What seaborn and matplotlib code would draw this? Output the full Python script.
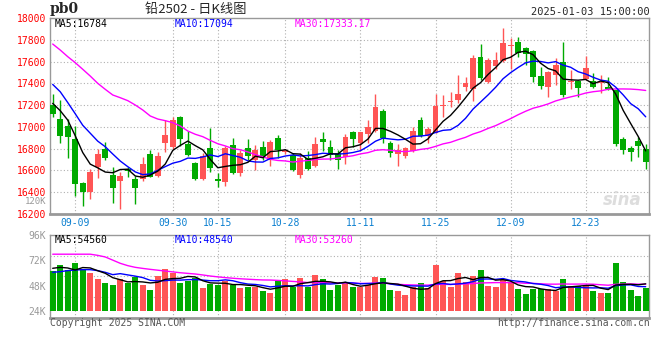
import numpy as np
import pandas as pd
import seaborn as sns
import matplotlib
matplotlib.use('Agg')
import matplotlib.pyplot as plt

# daily candles, 2024-09-04 .. 2025-01-03
opens = [17201, 17072, 17008, 16889, 16482, 16405, 16635, 16797, 16558, 16506,
         16613, 16522, 16518, 16748, 16552, 16849, 16818, 17094, 16843, 16665,
         16522, 16803, 16518, 16497, 16834, 16580, 16810, 16693, 16815, 16693,
         16900, 16766, 16745, 16558, 16710, 16644, 16889, 16815, 16757, 16720,
         16953, 16849, 16935, 16965, 17149, 16849, 16750, 16735, 16782, 17066,
         16914, 16945, 17189, 17225, 17247, 17369, 17348, 17639, 17415, 17562,
         17606, 17742, 17777, 17722, 17698, 17468, 17362, 17473, 17599, 17409,
         17422, 17438, 17422, 17402, 17362, 17335, 16889, 16803, 16868, 16797]
highs = [17302, 17247, 17072, 17008, 16497, 16613, 16794, 16861, 16635, 16583,
         16635, 16552, 16727, 16788, 16772, 17063, 17088, 17100, 16962, 16681,
         16757, 16987, 16580, 16825, 16895, 16790, 16890, 16830, 16870, 16880,
         16930, 16800, 16760, 16762, 16780, 16904, 16952, 16880, 16785, 16935,
         16962, 16956, 17063, 17302, 17161, 16873, 16840, 16818, 17002, 17088,
         17002, 17298, 17290, 17320, 17477, 17458, 17660, 17761, 17635, 17690,
         17905, 17815, 17825, 17735, 17708, 17550, 17510, 17635, 17783, 17523,
         17434, 17652, 17496, 17476, 17458, 17340, 16910, 16826, 16910, 16840]
lows = [17094, 16849, 16711, 16368, 16277, 16335, 16528, 16696, 16304, 16243,
        16543, 16289, 16503, 16537, 16543, 16772, 16797, 16825, 16733, 16512,
        16512, 16589, 16451, 16460, 16567, 16550, 16692, 16605, 16692, 16644,
        16715, 16750, 16598, 16530, 16600, 16632, 16782, 16693, 16616, 16660,
        16818, 16782, 16849, 16956, 16855, 16720, 16644, 16711, 16772, 16904,
        16849, 16941, 17090, 17180, 17222, 17328, 17234, 17435, 17405, 17535,
        17598, 17532, 17645, 17572, 17412, 17345, 17270, 17387, 17275, 17345,
        17270, 17432, 17355, 17314, 17336, 16822, 16754, 16690, 16720, 16615]
closes = [17115, 16919, 16910, 16473, 16405, 16583, 16748, 16717, 16442, 16552,
          16598, 16436, 16659, 16543, 16733, 16925, 17063, 16886, 16742, 16522,
          16733, 16620, 16506, 16803, 16574, 16760, 16730, 16788, 16730, 16857,
          16790, 16788, 16605, 16710, 16613, 16843, 16857, 16745, 16693, 16904,
          16889, 16953, 17002, 17183, 16901, 16757, 16785, 16803, 16963, 16919,
          16979, 17193, 17200, 17237, 17302, 17406, 17635, 17450, 17614, 17618,
          17768, 17748, 17675, 17668, 17455, 17377, 17504, 17568, 17290, 17422,
          17360, 17540, 17369, 17415, 17346, 16840, 16788, 16766, 16822, 16681]
# volume, in thousands
volumes = [62.0, 67.4, 62.7, 69.3, 63.6, 60.2, 54.2, 50.7, 48.5, 53.9,
           50.1, 55.8, 48.8, 43.8, 57.3, 63.6, 59.5, 50.1, 52.6, 54.8,
           45.7, 49.5, 48.8, 52.0, 48.8, 45.7, 46.3, 46.3, 43.2, 41.3,
           52.0, 54.2, 46.3, 55.1, 46.3, 58.0, 54.2, 43.8, 48.8, 51.0,
           47.0, 46.3, 48.8, 55.8, 55.1, 43.8, 43.2, 39.1, 46.3, 50.1,
           46.0, 67.7, 52.6, 47.0, 59.8, 51.0, 57.3, 62.7, 47.9, 46.6,
           53.6, 50.1, 44.8, 40.0, 44.8, 44.8, 44.8, 42.6, 53.9, 47.9,
           47.9, 47.9, 43.2, 41.0, 41.0, 69.3, 51.0, 43.8, 38.5, 45.7]

# moving-average values before a full window exists
ma5_head = [17216, 17149, 17063, 16919]
ma10_head = [17390, 17323, 17224, 17121, 17015, 16942, 16869, 16818, 16751]
ma30_head = [17761, 17706, 17645, 17590, 17529, 17467, 17400, 17345, 17293, 17268,
             17241, 17201, 17155, 17100, 17072, 17057, 17039, 17008, 16962, 16932,
             16910, 16876, 16845, 16825, 16800, 16790, 16770, 16745, 16725]
vma5_head = [64.3, 65.2, 64.6, 62.7]
vma10_head = [60.5, 61.1, 62.1, 62.7, 63.0, 63.0, 62.1, 60.5, 58.3]
vma30_head = [77.6, 77.6, 77.6, 77.6, 77.6, 77.6, 76.5, 75.0, 72.0, 69.0,
              66.8, 65.2, 64.2, 63.3, 62.5, 61.7, 60.9, 60.1, 59.5, 58.9,
              58.0, 57.0, 56.2, 55.5, 54.9, 54.4, 54.0, 53.6, 53.3]

date_labels = ['09-09', '09-30', '10-15', '10-28', '11-11', '11-25', '12-09', '12-23']
date_pos = [3, 16, 22, 31, 41, 51, 61, 71]
price_ticks = list(range(16200, 18001, 200))
vol_ticks = [24, 48, 72, 96]

RED = '#ff5555'
GREEN = '#00aa00'
GRID = '#b0b0b0'


def with_head(series, n, head):
    ma = series.rolling(n).mean()
    ma.iloc[:len(head)] = head
    return ma


df = pd.DataFrame({'o': opens, 'h': highs, 'l': lows, 'c': closes, 'v': volumes})
df['i'] = np.arange(len(df))
df['up'] = df['c'] >= df['o']
df['ma5'] = with_head(df['c'], 5, ma5_head)
df['ma10'] = with_head(df['c'], 10, ma10_head)
df['ma30'] = with_head(df['c'], 30, ma30_head)
df['vma5'] = with_head(df['v'], 5, vma5_head)
df['vma10'] = with_head(df['v'], 10, vma10_head)
df['vma30'] = with_head(df['v'], 30, vma30_head)

sns.set_style('white')
plt.rcParams['font.family'] = ['DejaVu Sans Mono', 'Noto Sans CJK SC']
mono = 'DejaVu Sans Mono'

W, H = 660, 360
fig = plt.figure(figsize=(6.6, 3.6), dpi=100)


def rect(x0, y0, x1, y1):
    return [x0 / W, 1 - y1 / H, (x1 - x0) / W, (y1 - y0) / H]


ax = fig.add_axes(rect(50, 18, 649.3, 214))
axv = fig.add_axes(rect(50, 234.7, 649.3, 318), sharex=ax)

colors = np.where(df['up'], RED, GREEN)

# candles
ax.vlines(df['i'], df['l'], df['h'], colors=colors, lw=1, zorder=2)
body_lo = df[['o', 'c']].min(axis=1)
body_h = (df['c'] - df['o']).abs().clip(lower=9)
ax.bar(df['i'], body_h, bottom=body_lo, width=0.78, color=colors, lw=0, zorder=3)

for col, c in [('ma30', '#ff00ff'), ('ma10', '#0000ff'), ('ma5', '#000000')]:
    sns.lineplot(data=df, x='i', y=col, ax=ax, color=c, lw=1, zorder=4)

# volume bars from the 24K baseline
axv.bar(df['i'], df['v'] - 24, bottom=24, width=0.8, color=colors, lw=0, zorder=3)
for col, c in [('vma30', '#ff00ff'), ('vma10', '#0000ff'), ('vma5', '#000000')]:
    sns.lineplot(data=df, x='i', y=col, ax=axv, color=c, lw=1, zorder=4)

ax.set_xlim(-0.36, 79.48)
ax.set_ylim(16200, 18000)
axv.set_ylim(24 - 7 / 1.0597, 96)

for a in (ax, axv):
    a.set_xlabel('')
    a.set_ylabel('')
    for s in a.spines.values():
        s.set_color('#999999')
        s.set_linewidth(1)
    for p in date_pos:
        a.axvline(p, color=GRID, lw=0.8, ls=(0, (1, 2)), zorder=1)
ax.spines['bottom'].set_linewidth(2)
axv.spines['bottom'].set_linewidth(2)

for t in price_ticks[1:-1]:
    ax.axhline(t, color=GRID, lw=0.8, ls=(0, (1, 2)), zorder=1)
lo, hi = axv.get_ylim()
for t in np.linspace(lo, hi, 5)[1:-1]:
    axv.axhline(t, color=GRID, lw=0.8, ls=(0, (1, 2)), zorder=1)

ax.set_yticks(price_ticks)
ax.set_yticklabels([str(t) for t in price_ticks], color='#ff0000', fontsize=7, family=mono)
ax.set_xticks(date_pos)
ax.set_xticklabels(date_labels, color='#0a7fd0', fontsize=7, family=mono)
ax.tick_params(length=0, pad=3)

axv.set_yticks(vol_ticks)
axv.set_yticklabels([f'{t}K' for t in vol_ticks], color='#999999', fontsize=7, family=mono)
axv.tick_params(axis='y', length=0, pad=3)
axv.tick_params(axis='x', length=0, labelbottom=False)


def ftext(x, y, s, **kw):
    fig.text(x / W, 1 - y / H, s, va='center', **kw)


ftext(50, 9, 'pb0', family='DejaVu Serif', weight='bold', fontsize=10)
ftext(196, 9, '铅2502 - 日K线图', ha='center', fontsize=9.5,
      family=['Noto Sans CJK SC', 'DejaVu Sans'])
ftext(650, 12, '2025-01-03 15:00:00', ha='right', family=mono, fontsize=7.5)

ftext(55, 24, 'MA5:16784', color='#000000', family=mono, fontsize=7)
ftext(175, 24, 'MA10:17094', color='#0000ff', family=mono, fontsize=7)
ftext(295, 24, 'MA30:17333.17', color='#ff00ff', family=mono, fontsize=7)
ftext(55, 240, 'MA5:54560', color='#000000', family=mono, fontsize=7)
ftext(175, 240, 'MA10:48540', color='#0000ff', family=mono, fontsize=7)
ftext(295, 240, 'MA30:53260', color='#ff00ff', family=mono, fontsize=7)

ftext(46, 201, '120K', ha='right', color='#999999', family=mono, fontsize=6.5)
ftext(622, 200, 'sina', ha='center', color='#dddddd', style='italic',
      weight='bold', family='DejaVu Sans', fontsize=12)
ftext(50, 323, 'Copyright 2025 SINA.COM', color='#555555', family=mono, fontsize=7)
ftext(650, 323, 'http://finance.sina.com.cn', ha='right', color='#555555',
      family=mono, fontsize=7)

fig.savefig('out.png', dpi=100)
